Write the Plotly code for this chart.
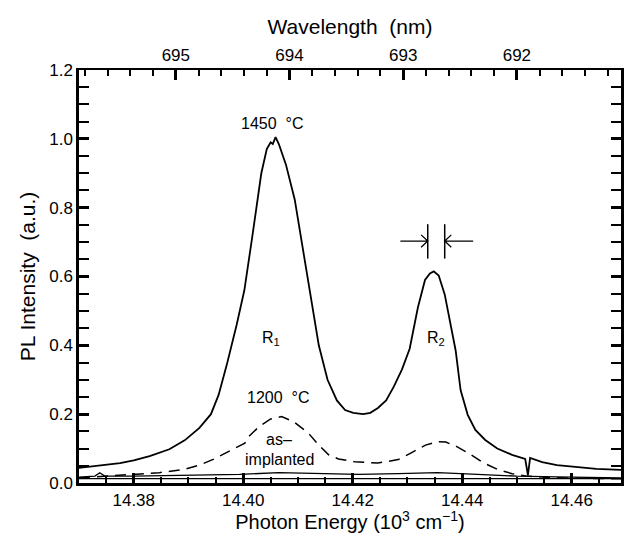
import plotly.graph_objects as go

# ---------------- data (photon energy in 10^3 cm^-1, PL intensity a.u.) ----------------
E_1450 = [14.3700, 14.3738, 14.3775, 14.3800, 14.3829, 14.3865, 14.3893, 14.3920, 14.3941,
          14.3955, 14.3970, 14.3988, 14.4002, 14.4016, 14.4026, 14.4033, 14.4043, 14.4050,
          14.4054, 14.4059, 14.4065, 14.4078, 14.4094, 14.4109, 14.4124, 14.4138, 14.4154,
          14.4171, 14.4186, 14.4201, 14.4219, 14.4232, 14.4246, 14.4261, 14.4275, 14.4290,
          14.4304, 14.4319, 14.4332, 14.4341, 14.4348, 14.4357, 14.4368, 14.4379, 14.4388,
          14.4397, 14.4410, 14.4424, 14.4442, 14.4464, 14.4491, 14.4515, 14.4520, 14.4524,
          14.4546, 14.4573, 14.4609, 14.4645, 14.4691]
I_1450 = [0.044, 0.050, 0.058, 0.066, 0.078, 0.098, 0.124, 0.160, 0.200,
          0.256, 0.344, 0.460, 0.560, 0.710, 0.820, 0.900, 0.970, 0.990,
          0.985, 1.005, 0.985, 0.925, 0.824, 0.680, 0.533, 0.400, 0.300,
          0.240, 0.212, 0.204, 0.200, 0.204, 0.218, 0.240, 0.280, 0.330,
          0.390, 0.510, 0.590, 0.609, 0.615, 0.603, 0.548, 0.460, 0.385,
          0.270, 0.198, 0.154, 0.125, 0.100, 0.082, 0.070, 0.023, 0.073,
          0.061, 0.052, 0.047, 0.041, 0.038]

E_1200 = [14.3700, 14.3756, 14.3800, 14.3847, 14.3893, 14.3920, 14.3947, 14.3974, 14.4003,
          14.4010, 14.4029, 14.4050, 14.4070, 14.4092, 14.4119, 14.4138, 14.4156, 14.4174,
          14.4203, 14.4246, 14.4283, 14.4306, 14.4333, 14.4355, 14.4370, 14.4391, 14.4413,
          14.4437, 14.4464, 14.4491, 14.4518, 14.4573, 14.4645, 14.4691]
I_1200 = [0.015, 0.020, 0.024, 0.030, 0.040, 0.052, 0.070, 0.092, 0.116,
          0.135, 0.164, 0.186, 0.193, 0.178, 0.145, 0.110, 0.082, 0.070,
          0.062, 0.058, 0.068, 0.087, 0.110, 0.120, 0.119, 0.105, 0.085,
          0.060, 0.040, 0.027, 0.020, 0.015, 0.012, 0.012]

E_asimp = [14.3700, 14.3729, 14.3738, 14.3747, 14.3800, 14.3920, 14.3993, 14.4065, 14.4138,
           14.4210, 14.4283, 14.4355, 14.4428, 14.4500, 14.4573, 14.4691]
I_asimp = [0.017, 0.020, 0.030, 0.020, 0.020, 0.022, 0.025, 0.030, 0.028,
           0.025, 0.027, 0.030, 0.025, 0.020, 0.018, 0.015]

E_base = [14.3700, 14.4691]
I_base = [0.013, 0.013]

# top axis (wavelength, nm) range matching the bottom axis edges
WL_RANGE = [695.852, 691.084]

# marker of the R2 line width (energies, intensity level)
FW_LEFT, FW_RIGHT = 14.4337, 14.4368
FW_Y, FW_Y0, FW_Y1 = 0.703, 0.652, 0.752
ARROW_L_START, ARROW_R_START = 14.4287, 14.4420

FONT = "Liberation Sans, Arial, sans-serif"

fig = go.Figure()
fig.add_trace(go.Scatter(x=E_1450, y=I_1450, mode="lines", line=dict(color="black", width=1.8)))
fig.add_trace(go.Scatter(x=E_1200, y=I_1200, mode="lines",
                         line=dict(color="black", width=1.5, dash="11px,7px")))
fig.add_trace(go.Scatter(x=E_asimp, y=I_asimp, mode="lines", line=dict(color="black", width=1.3)))
fig.add_trace(go.Scatter(x=E_base, y=I_base, mode="lines", line=dict(color="black", width=1.3)))
# empty trace that carries the top wavelength axis
fig.add_trace(go.Scatter(x=[], y=[], xaxis="x2", mode="lines", showlegend=False))

# width marker on R2: two vertical bars and two open arrows
ah_dx, ah_dy = 0.0012, 0.018
shapes = [
    dict(type="line", xref="x", yref="y", x0=FW_LEFT, x1=FW_LEFT, y0=FW_Y0, y1=FW_Y1,
         line=dict(color="black", width=1.5)),
    dict(type="line", xref="x", yref="y", x0=FW_RIGHT, x1=FW_RIGHT, y0=FW_Y0, y1=FW_Y1,
         line=dict(color="black", width=1.5)),
    dict(type="path", xref="x", yref="y",
         path=(f"M {ARROW_L_START},{FW_Y} L {FW_LEFT},{FW_Y} "
               f"M {FW_LEFT-ah_dx},{FW_Y+ah_dy} L {FW_LEFT},{FW_Y} L {FW_LEFT-ah_dx},{FW_Y-ah_dy}"),
         line=dict(color="black", width=1.3)),
    dict(type="path", xref="x", yref="y",
         path=(f"M {ARROW_R_START},{FW_Y} L {FW_RIGHT},{FW_Y} "
               f"M {FW_RIGHT+ah_dx},{FW_Y+ah_dy} L {FW_RIGHT},{FW_Y} L {FW_RIGHT+ah_dx},{FW_Y-ah_dy}"),
         line=dict(color="black", width=1.3)),
]

ann_font = dict(family=FONT, size=16, color="black")
annotations = [
    dict(x=14.4052, y=1.045, text="1450  °C", showarrow=False, font=ann_font),
    dict(x=14.4050, y=0.42, text="R<sub>1</sub>", showarrow=False, font=ann_font),
    dict(x=14.4352, y=0.42, text="R<sub>2</sub>", showarrow=False, font=ann_font),
    dict(x=14.4063, y=0.247, text="1200  °C", showarrow=False, font=ann_font),
    dict(x=14.4066, y=0.125, text="as–", showarrow=False, font=ann_font),
    dict(x=14.4066, y=0.068, text="implanted", showarrow=False, font=ann_font),
]

tick_major = dict(ticks="inside", ticklen=10, tickwidth=2.5, tickcolor="black")
tick_minor = dict(ticks="inside", ticklen=6, tickwidth=2, tickcolor="black")

fig.update_layout(
    width=626, height=533,
    margin=dict(l=79, r=2, t=70, b=50),
    plot_bgcolor="rgba(0,0,0,0)", paper_bgcolor="white",
    showlegend=False,
    font=dict(family=FONT, size=17, color="black"),
    shapes=shapes, annotations=annotations,
    xaxis=dict(
        range=[14.370, 14.469], tick0=14.38, dtick=0.02, tickformat=".2f",
        **tick_major,
        minor=dict(tick0=14.38, dtick=0.005, **tick_minor),
        showline=True, linewidth=3, linecolor="black", mirror=False,
        gridcolor="rgba(0,0,0,0)", zeroline=False,
        title=dict(text="Photon Energy (10<sup>3</sup> cm<sup>−1</sup>)", font=dict(size=20), standoff=6),
    ),
    xaxis2=dict(
        overlaying="x", side="top", anchor="y",
        range=WL_RANGE, tick0=692, dtick=1, tickformat="d",
        **tick_major,
        minor=dict(tick0=692, dtick=0.2, **tick_minor),
        showline=True, linewidth=2, linecolor="black",
        showgrid=False, zeroline=False,
        title=dict(text="Wavelength  (nm)", font=dict(size=21), standoff=6),
    ),
    yaxis=dict(
        range=[0, 1.2], tick0=0, dtick=0.2, tickformat=".1f",
        **tick_major,
        minor=dict(dtick=0.05, **tick_minor),
        showline=True, linewidth=2.5, linecolor="black", mirror="allticks",
        gridcolor="rgba(0,0,0,0)", zeroline=False,
        title=dict(text="PL Intensity  (a.u.)", font=dict(size=21), standoff=8),
    ),
)

fig.write_html("out.html")
